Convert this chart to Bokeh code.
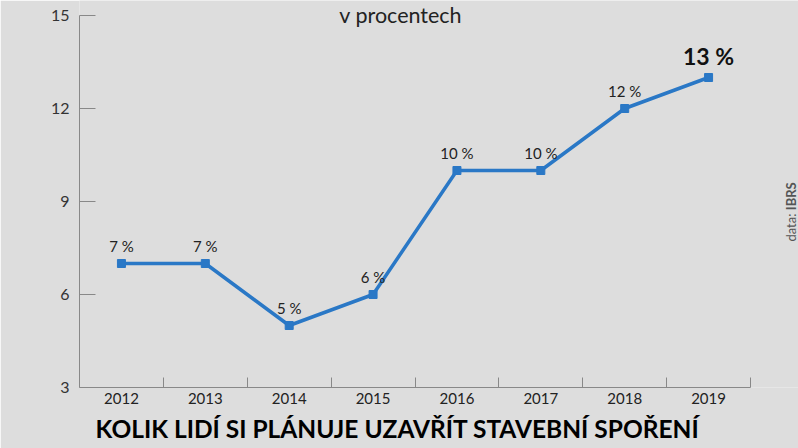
import math
from bokeh.plotting import figure
from bokeh.models import ColumnDataSource, FixedTicker, Label, Range1d, Title
from bokeh.core.properties import value
from bokeh.embed import file_html
from bokeh.resources import INLINE

years = ["2012", "2013", "2014", "2015", "2016", "2017", "2018", "2019"]
values = [7, 7, 5, 6, 10, 10, 12, 13]
labels = ["7 %", "7 %", "5 %", "6 %", "10 %", "10 %", "12 %", "13 %"]
y_min, y_max = 3, 15
y_ticks = [3, 6, 9, 12, 15]

xpos = [i + 0.5 for i in range(len(years))]
BG = "#dddddd"
FONT = "Lato"

W, H = 798, 448
AX_L, AX_R, AX_T, AX_B = 79, 750, 15, 387  # where the axes sit on the canvas
n = len(years)
x_end = n * (W - AX_L) / (AX_R - AX_L)               # frame runs to the right edge
y_end = y_max + (y_max - y_min) * AX_T / (AX_B - AX_T)  # frame runs to the top edge

p = figure(width=W, height=H, output_backend="svg", toolbar_location=None,
           x_range=Range1d(0, x_end), y_range=Range1d(y_min, y_end),
           min_border_left=AX_L, min_border_right=0, min_border_top=0,
           min_border_bottom=H - AX_B)
p.background_fill_color = BG
p.border_fill_color = BG
p.outline_line_color = None
p.grid.visible = False

# axes
p.xaxis.bounds = (0, n)
p.xaxis.ticker = FixedTicker(ticks=xpos, minor_ticks=[i + 1 for i in range(n)])
p.xaxis.major_label_overrides = {x: y for x, y in zip(xpos, years)}
p.xaxis.major_tick_in = 0
p.xaxis.major_tick_out = 0
p.xaxis.minor_tick_in = 10
p.xaxis.minor_tick_out = 0
p.xaxis.axis_line_color = "#888888"
p.xaxis.minor_tick_line_color = "#888888"
p.xaxis.major_label_text_font = FONT
p.xaxis.major_label_text_font_size = "15px"
p.xaxis.major_label_text_color = "#222222"
p.xaxis.major_label_standoff = 5

p.yaxis.bounds = (y_min, y_max)
p.yaxis.ticker = FixedTicker(ticks=y_ticks)
p.yaxis.major_tick_in = 16
p.yaxis.major_tick_out = 0
p.yaxis.minor_tick_line_color = None
p.yaxis.axis_line_color = "#888888"
p.yaxis.major_tick_line_color = "#888888"
p.yaxis.major_label_text_font = FONT
p.yaxis.major_label_text_font_size = "16px"
p.yaxis.major_label_text_color = "#333333"
p.yaxis.major_label_standoff = 10

src = ColumnDataSource(dict(x=xpos, y=values))
p.line("x", "y", source=src, line_color="#2a78c6", line_width=3.5)
p.scatter("x", "y", source=src, marker="square", size=8, color="#2a78c6")

# data labels (all but last normal, last bold)
lsrc = ColumnDataSource(dict(x=xpos[:-1], y=values[:-1], t=labels[:-1]))
p.text("x", "y", text="t", source=lsrc, text_font=value(FONT), text_font_size="15px",
       text_color="#222222", text_align="center", text_baseline="bottom", y_offset=-9)
p.add_layout(Label(x=xpos[-1], y=values[-1], text=labels[-1], text_font=FONT,
                   text_font_size="23px", text_font_style="bold", text_color="#111111",
                   text_align="center", text_baseline="bottom", y_offset=8))

# subtitle at the top
p.add_layout(Label(x=3.83, y=15.03, text="v procentech",
                   text_font=FONT, text_font_size="21.5px", text_color="#222222",
                   text_align="center", text_baseline="middle"))

# source note, rotated
p.add_layout(Label(x=8.477, y=8.72, text="data: ",
                   text_font=FONT, text_font_size="13px",
                   text_color="#555555", angle=math.pi / 2, text_align="right",
                   text_baseline="middle"))
p.add_layout(Label(x=8.477, y=8.72, text="IBRS",
                   text_font=FONT, text_font_size="13px",
                   text_font_style="bold", text_color="#555555", angle=math.pi / 2,
                   text_align="left", text_baseline="middle"))

# headline below the chart
p.add_layout(Title(text="KOLIK LIDÍ SI PLÁNUJE UZAVŘÍT STAVEBNÍ SPOŘENÍ",
                   text_font=FONT, text_font_size="24.5px", text_font_style="bold",
                   text_color="#000000", align="left", offset=16, standoff=10), "below")

open("out.html", "w").write(file_html(p, INLINE))
